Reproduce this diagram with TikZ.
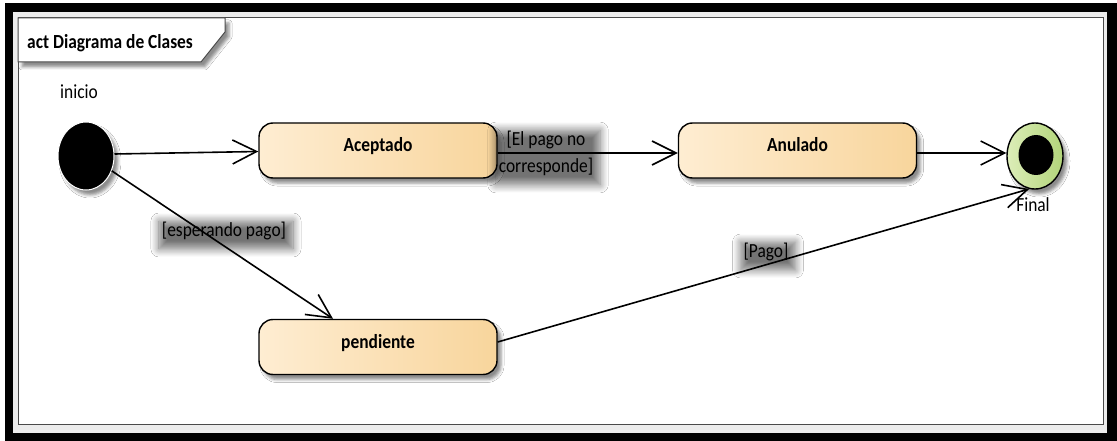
\documentclass[tikz,border=0pt]{standalone}
\usepackage{fontspec}
\setmainfont{Carlito}[FakeStretch=0.87]
\usetikzlibrary{arrows.meta,shapes.geometric,shadows.blur}

\definecolor{stateL}{HTML}{FEEDD2}
\definecolor{stateR}{HTML}{F8D59C}
\definecolor{finL}{HTML}{DCEDB8}
\definecolor{finR}{HTML}{B2D57A}
\definecolor{framegray}{HTML}{4A4A4A}
\definecolor{bandgray}{HTML}{ECECEC}

\tikzset{
  softshadow/.style={blur shadow={shadow xshift=4pt, shadow yshift=-5pt,
      shadow blur radius=3pt, shadow opacity=45}},
  statebox/.style={draw=black, line width=1.4pt, rounded corners=14pt,
      minimum width=238pt, minimum height=55pt,
      left color=stateL, right color=stateR, softshadow,
      font=\fontsize{20}{24}\selectfont\bfseries,
      text height=8pt, text depth=6pt, inner sep=0pt},
  flow/.style={line width=1.6pt,
      -{Straight Barb[length=24pt,width=24pt,line width=1.6pt]}},
  guard/.style={font=\fontsize{20}{27}\selectfont, align=center, inner sep=5pt,
      blur shadow={shadow xshift=2pt, shadow yshift=-4pt,
      shadow blur radius=8pt, shadow blur steps=12, shadow opacity=55}},
  plain/.style={font=\fontsize{20}{24}\selectfont, inner sep=0pt},
}

\begin{document}
\begin{tikzpicture}[x=1pt, y=-1pt]
  \useasboundingbox (0,0) rectangle (1117,441);

  % outer frame
  \fill[black] (5,3) rectangle (1117,441);
  \fill[bandgray] (13,12) rectangle (1107,433);
  \draw[framegray, line width=1pt, fill=white] (18,18) rectangle (1103,424);

  % diagram name tab
  \draw[fill=white, draw=framegray, line width=1pt, softshadow]
    (18,18) -- (225,18) -- (225,32) -- (201,62) -- (18,62) -- cycle;
  \node[plain, anchor=base west, font=\fontsize{20}{24}\selectfont\bfseries]
    (title) at (27,49) {act Diagrama de Clases};

  % initial and final pseudostates
  \node[ellipse, fill=black, draw=white, line width=1pt,
        minimum width=56pt, minimum height=68pt, inner sep=0pt, softshadow]
    (ini) at (86,156) {};
  \node[plain] (inilbl) at (79,92) {inicio};

  \node[ellipse, draw=black, line width=1.4pt, left color=finL, right color=finR,
        minimum width=56pt, minimum height=66pt, inner sep=0pt, softshadow]
    (fin) at (1035,156) {};
  \node[ellipse, fill=black, minimum width=35pt, minimum height=40pt, inner sep=0pt]
    (fincore) at (1036,155) {};
  \node[plain] (finlbl) at (1033,205) {Final};

  % states
  \node[statebox] (acc) at (378,150.5) {Aceptado};
  \node[statebox] (anu) at (797.5,150.5) {Anulado};
  \node[statebox] (pend) at (378,347) {pendiente};

  % transitions
  \draw[flow] ([yshift=2pt]ini.east) -- ([yshift=-1pt]acc.west);
  \draw[flow] ([yshift=-2.5pt]acc.east) -- ([yshift=-2.5pt]anu.west);
  \draw[flow] ([yshift=-2.5pt]anu.east) -- (fin.174);
  \draw[flow] (ini.-30) -- ([xshift=-45pt]pend.north);
  \draw[flow] ([yshift=5pt]pend.east) -- (fin.-100);

  % guards
  \node[guard] (g1) at (546,153.5) {[El pago no\\corresponde]};
  \node[guard] (g2) at (224,231) {[esperando pago]};
  \node[guard] (g3) at (766,252) {[Pago]};
\end{tikzpicture}
\end{document}
